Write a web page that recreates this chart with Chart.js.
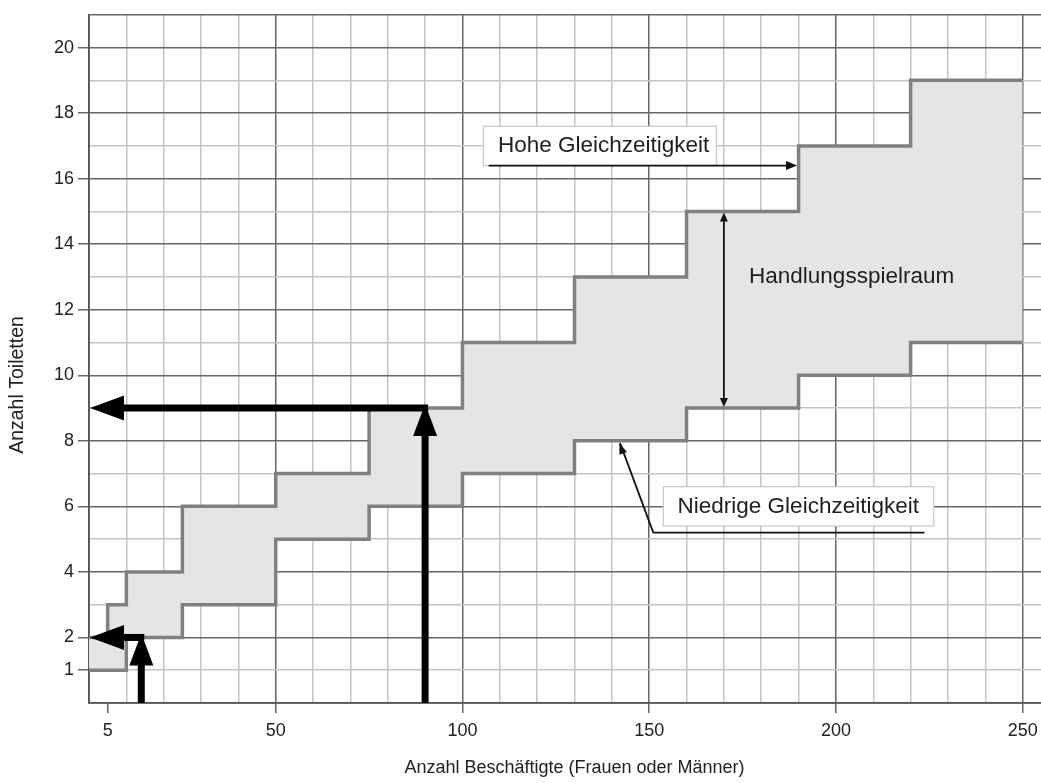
<!DOCTYPE html>
<html>
<head>
<meta charset="utf-8">
<script src="https://cdn.jsdelivr.net/npm/chart.js@4.4.1/dist/chart.umd.min.js"></script>
<style>
  html, body { margin: 0; padding: 0; background: #fff; overflow: hidden; }
  #wrap { width: 1060px; height: 783px; }
</style>
</head>
<body>
<div id="wrap"><canvas id="toiletten" width="1060" height="783"></canvas></div>
<script>
// Beschäftigte ab denen die jeweilige Stufe gilt
const stepStarts = [0, 5, 10, 25, 50, 75, 100, 130, 160, 190, 220, 250];
const toiletsHigh = [2, 3, 4, 6, 7, 9, 11, 13, 15, 17, 19, 19];
const toiletsLow = [1, 1, 2, 3, 5, 6, 7, 8, 9, 10, 11, 11];
const xTickLabels = [5, 50, 100, 150, 200, 250];
const yTickLabels = [1, 2, 4, 6, 8, 10, 12, 14, 16, 18, 20];
// Ablesebeispiele (dicke Pfeile)
const exampleEmployees = [90, 14];
const exampleToilets = [9, 2];
// Stelle des Doppelpfeils "Handlungsspielraum"
const spanAt = 170;

const FONT = "'Liberation Sans', Arial, sans-serif";
const DARK = '#666666';
const LIGHT = '#c4c4c4';
const NONE = 'rgba(0,0,0,0)';

const xGrid = [5];
for (let v = 0; v <= 250; v += 10) xGrid.push(v);
xGrid.sort((a, b) => a - b);

const toPoints = (xs, ys) => xs.map((x, i) => ({ x: x, y: ys[i] }));

const stepAt = (vals, x) => {
    let idx = 0;
    stepStarts.forEach((s, i) => { if (x >= s) idx = i; });
    return vals[idx];
};

const head = (ctx, x, y, angle, len, wid) => {
    const bx = x - len * Math.cos(angle), by = y - len * Math.sin(angle);
    const nx = -Math.sin(angle) * wid / 2, ny = Math.cos(angle) * wid / 2;
    ctx.beginPath();
    ctx.moveTo(x, y);
    ctx.lineTo(bx + nx, by + ny);
    ctx.lineTo(bx - nx, by - ny);
    ctx.closePath();
    ctx.fill();
};

const labelBox = (ctx, x0, y0, x1, y1) => {
    ctx.fillStyle = '#ffffff';
    ctx.fillRect(x0, y0, x1 - x0, y1 - y0);
    ctx.strokeStyle = '#c8c8c8';
    ctx.lineWidth = 1.2;
    ctx.strokeRect(x0, y0, x1 - x0, y1 - y0);
};

const annotations = {
    id: 'annotations',
    afterDatasetsDraw(chart) {
        const ctx = chart.ctx;
        const px = v => chart.scales.x.getPixelForValue(v);
        const py = v => chart.scales.y.getPixelForValue(v);
        const area = chart.chartArea;
        ctx.save();

        // dicke Ablesepfeile
        ctx.fillStyle = '#000';
        ctx.strokeStyle = '#000';
        exampleEmployees.forEach((e, i) => {
            const x = px(e), y = py(exampleToilets[i]);
            ctx.lineWidth = 7;
            ctx.lineCap = 'butt';
            ctx.beginPath();
            ctx.moveTo(x, area.bottom);
            ctx.lineTo(x, y + 26);
            ctx.stroke();
            head(ctx, x, y - 4, -Math.PI / 2, 32, 24);
            ctx.beginPath();
            ctx.moveTo(x + 3, y);
            ctx.lineTo(area.left + 28, y);
            ctx.stroke();
            head(ctx, area.left + 1, y, Math.PI, 34, 25);
        });

        ctx.font = '22.5px ' + FONT;
        ctx.textBaseline = 'middle';
        ctx.textAlign = 'left';

        // Hohe Gleichzeitigkeit
        labelBox(ctx, px(105.6), py(17.6), px(168), py(16.4));
        ctx.fillStyle = '#1e1e1e';
        ctx.fillText('Hohe Gleichzeitigkeit', px(109.5), py(17.0));
        ctx.strokeStyle = '#111';
        ctx.fillStyle = '#111';
        ctx.lineWidth = 1.8;
        ctx.beginPath();
        ctx.moveTo(px(107), py(16.4));
        ctx.lineTo(px(187), py(16.4));
        ctx.stroke();
        head(ctx, px(189.6), py(16.4), 0, 11, 9);

        // Niedrige Gleichzeitigkeit
        ctx.beginPath();
        ctx.moveTo(px(223.7), py(5.2));
        ctx.lineTo(px(151.1), py(5.2));
        ctx.lineTo(px(142.2), py(7.93));
        ctx.stroke();
        const ang = Math.atan2(py(7.93) - py(5.2), px(142) - px(151.1));
        head(ctx, px(142), py(7.93), ang, 11, 8);
        labelBox(ctx, px(153.8), py(6.6), px(226.2), py(5.4));
        ctx.fillStyle = '#1e1e1e';
        ctx.fillText('Niedrige Gleichzeitigkeit', px(157.6), py(6.0));

        // Handlungsspielraum
        const xs = px(spanAt);
        const yTop = py(stepAt(toiletsHigh, spanAt)) + 1;
        const yBot = py(stepAt(toiletsLow, spanAt)) - 1;
        ctx.fillStyle = '#111';
        ctx.strokeStyle = '#111';
        ctx.lineWidth = 1.8;
        ctx.beginPath();
        ctx.moveTo(xs, yTop + 8);
        ctx.lineTo(xs, yBot - 8);
        ctx.stroke();
        head(ctx, xs, yTop, -Math.PI / 2, 9, 8);
        head(ctx, xs, yBot, Math.PI / 2, 9, 8);
        ctx.fillStyle = '#1e1e1e';
        ctx.textAlign = 'center';
        ctx.fillText('Handlungsspielraum', px(204.2), py(13.0));

        ctx.restore();
    },
    afterDraw(chart) {
        const ctx = chart.ctx;
        ctx.save();
        ctx.translate(18, 385);
        ctx.rotate(-Math.PI / 2);
        ctx.font = '19.5px ' + FONT;
        ctx.fillStyle = '#222';
        ctx.textAlign = 'center';
        ctx.textBaseline = 'middle';
        ctx.fillText('Anzahl Toiletten', 0, 0);
        ctx.restore();
    }
};

const chart = new Chart(document.getElementById('toiletten'), {
    type: 'line',
    data: {
        datasets: [{
            label: 'Hohe Gleichzeitigkeit',
            data: toPoints(stepStarts, toiletsHigh),
            stepped: true,
            fill: '+1',
            backgroundColor: '#e5e5e5',
            borderColor: '#808080',
            borderWidth: 3.5,
            borderJoinStyle: 'miter',
            pointRadius: 0
        },
        {
            label: 'Niedrige Gleichzeitigkeit',
            data: toPoints(stepStarts, toiletsLow),
            stepped: true,
            fill: false,
            borderColor: '#808080',
            borderWidth: 3.5,
            borderJoinStyle: 'miter',
            pointRadius: 0
        }]
    },
    options: {
        responsive: false,
        animation: false,
        devicePixelRatio: 1,
        layout: { padding: { top: 12, left: 0, right: 0, bottom: 0 } },
        plugins: {
            legend: { display: false },
            tooltip: { enabled: false },
            filler: { drawTime: 'beforeDatasetsDraw' }
        },
        scales: {
            x: {
                type: 'linear',
                min: 0,
                max: 260,
                afterBuildTicks: scale => { scale.ticks = xGrid.map(v => ({ value: v })); },
                afterFit: scale => { scale.height = 80; },
                ticks: {
                    autoSkip: false,
                    maxRotation: 0,
                    padding: 7,
                    color: '#222',
                    font: { family: FONT, size: 18 },
                    callback: v => xTickLabels.includes(v) ? String(v) : ''
                },
                grid: {
                    lineWidth: 1.5,
                    tickLength: 10,
                    tickWidth: 1.5,
                    color: c => c.tick.value === 5 ? NONE : (c.tick.value % 50 === 0 ? DARK : LIGHT),
                    tickColor: c => xTickLabels.includes(c.tick.value) ? DARK : NONE
                },
                border: { color: '#555', width: 1.8 },
                title: {
                    display: true,
                    text: 'Anzahl Beschäftigte (Frauen oder Männer)',
                    color: '#222',
                    font: { family: FONT, size: 18 },
                    padding: { top: 4, bottom: 4 }
                }
            },
            y: {
                min: 0,
                max: 21,
                afterFit: scale => { scale.width = 89; },
                ticks: {
                    stepSize: 1,
                    autoSkip: false,
                    padding: 4,
                    color: '#222',
                    font: { family: FONT, size: 18 },
                    callback: v => yTickLabels.includes(v) ? String(v) : ''
                },
                grid: {
                    lineWidth: 1.5,
                    tickLength: 11,
                    tickWidth: 1.5,
                    color: c => (c.tick.value % 2 === 0 || c.tick.value === 21) ? DARK : LIGHT,
                    tickColor: c => yTickLabels.includes(c.tick.value) ? DARK : NONE
                },
                border: { color: '#555', width: 1.8 }
            }
        }
    },
    plugins: [annotations]
});
</script>
</body>
</html>
